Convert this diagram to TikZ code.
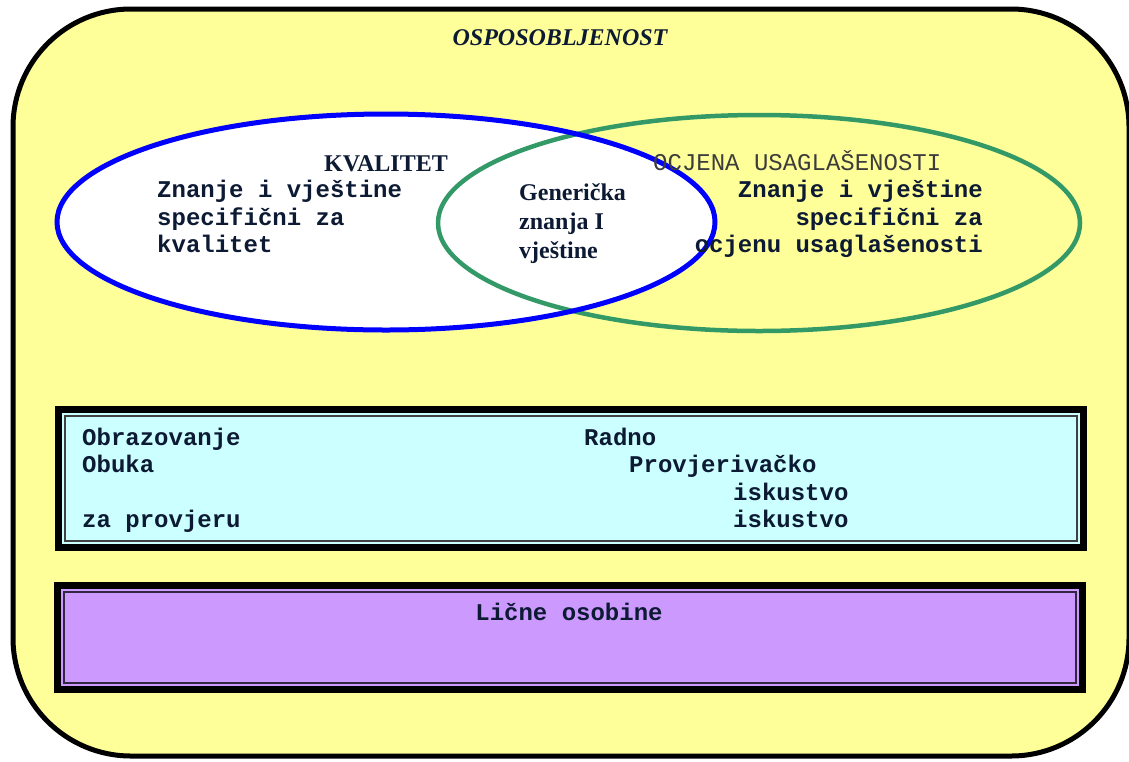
\documentclass[tikz,border=0pt]{standalone}
\usepackage{fontspec}
\setmainfont{Liberation Serif}
\setmonofont{Liberation Mono}
\definecolor{yel}{HTML}{FFFF99}
\definecolor{cyanbox}{HTML}{CCFFFF}
\definecolor{purplebox}{HTML}{CC99FF}
\definecolor{navy}{RGB}{12,26,51}
\definecolor{grn}{HTML}{339966}
\definecolor{blu}{HTML}{0000FF}
\definecolor{graytxt}{RGB}{60,60,60}
\tikzset{
  monob/.style={font=\fontsize{24}{28}\selectfont\ttfamily\bfseries, text=navy, inner sep=0pt},
  monor/.style={font=\fontsize{24}{28}\selectfont\ttfamily, text=graytxt, inner sep=0pt},
  serifb/.style={font=\fontsize{24}{28}\selectfont\bfseries, text=navy, inner sep=0pt},
  outerframe/.style={line width=7pt, draw=black},
  innerframe/.style={line width=1.3pt},
}
\begin{document}
\begin{tikzpicture}[x=1pt,y=-1pt]
\useasboundingbox (0,0) rectangle (1129,761);
\fill[white] (0,0) rectangle (1129,761);
% outer rounded frame
\draw[line width=5pt, fill=yel, rounded corners=118pt] (13,9) rectangle (1129,756);
\node[font=\fontsize{24}{28}\selectfont\bfseries\itshape, text=navy, inner sep=0pt, anchor=base] (title) at (560,45) {OSPOSOBLJENOST};
% ellipses
\fill[white] (386,222) ellipse [x radius=329, y radius=108];
\draw[grn, line width=4.5pt] (759,223) ellipse [x radius=321, y radius=108];
\draw[blu, line width=5pt] (386,222) ellipse [x radius=329, y radius=108];
% texts in ellipses
\node[serifb, anchor=base] (kval) at (386,171) {KVALITET};
\node[monob, anchor=base west] (k1) at (157,197) {Znanje i vještine};
\node[monob, anchor=base west] (k2) at (157,225) {specifični za};
\node[monob, anchor=base west] (k3) at (157,252) {kvalitet};
\node[serifb, anchor=base west] (g1) at (519,200) {Generička};
\node[serifb, anchor=base west] (g2) at (519,229) {znanja I};
\node[serifb, anchor=base west] (g3) at (519,258) {vještine};
\node[monor, anchor=base west] (oc) at (653,170) {OCJENA USAGLAŠENOSTI};
\node[monob, anchor=base east] (o1) at (983,197) {Znanje i vještine};
\node[monob, anchor=base east] (o2) at (983,225) {specifični za};
\node[monob, anchor=base east] (o3) at (983,252) {ocjenu usaglašenosti};
% cyan box
\fill[cyanbox] (55,406) rectangle (1087,551);
\draw[outerframe] (58.5,409.5) rectangle (1083.5,547.5);
\draw[innerframe, black!75] (65,416) rectangle (1077,541);
\node[monob, anchor=base west] (b1) at (82,445) {Obrazovanje};
\node[monob, anchor=base west] (b2) at (82,472) {Obuka};
\node[monob, anchor=base west] (b3) at (82,527) {za provjeru};
\node[monob, anchor=base west] (r1) at (584,445) {Radno};
\node[monob, anchor=base west] (r2) at (629,472) {Provjerivačko};
\node[monob, anchor=base west] (r3) at (733,500) {iskustvo};
\node[monob, anchor=base west] (r4) at (733,527) {iskustvo};
% purple box
\fill[purplebox] (54,582) rectangle (1086,693);
\draw[outerframe] (57.5,585.5) rectangle (1082.5,689.5);
\draw[innerframe, black!75!purplebox] (64,592) rectangle (1076,683);
\node[monob, anchor=base] (lo) at (569,620) {Lične osobine};
\end{tikzpicture}
\end{document}
